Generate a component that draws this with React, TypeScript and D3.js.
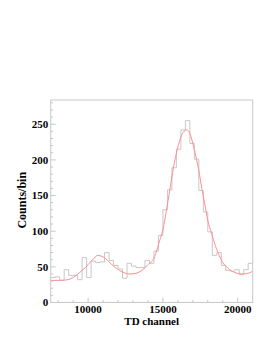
import { useEffect, useRef } from "react"
import * as d3 from "d3"

const W = 273
const H = 353

// histogram: 45 bins of 300 channels starting at 7500
const binStart = 7500
const binWidth = 300
const counts = [
  35, 36, 31, 46, 38, 38, 32, 63, 35, 58, 56, 57, 70, 59, 52, 47, 34, 55, 51, 49, 49, 59, 55, 72, 94, 130, 158, 189,
  215, 242, 255, 223, 201, 157, 127, 99, 66, 70, 52, 45, 44, 46, 39, 46, 55,
]

// fit curve
const fitChannel = [
  7500, 8000, 8500, 8800, 9200, 9600, 10000, 10300, 10650, 11000, 11300, 11700, 12100, 12500, 12800, 13200, 13600,
  14000, 14400, 14800, 15000, 15200, 15400, 15600, 15800, 16000, 16200, 16400, 16600, 16800, 17000, 17200, 17400,
  17600, 17800, 18000, 18250, 18500, 18700, 19000, 19300, 19800, 20300, 20700, 21000,
]
const fitValue = [
  31, 31, 31.5, 33, 38, 45, 53, 60, 66, 64, 59, 51, 45, 41, 40, 41, 45, 53, 62, 88, 102, 125, 150, 176, 200, 218,
  232, 240, 242, 237, 223, 205, 185, 160, 138, 115, 97, 80, 69, 56, 49, 42, 40, 41, 44,
]

const xTicks = [10000, 15000, 20000]
const yTicks = [0, 50, 100, 150, 200, 250]

export default function App() {
  const svgRef = useRef<SVGSVGElement | null>(null)

  useEffect(() => {
    if (!svgRef.current) return
    const svg = d3.select(svgRef.current)
    svg.selectAll("*").remove()

    const left = 50.7
    const right = 252.7
    const top = 100
    const bottom = 302.5

    const x = d3.scaleLinear().domain([7500, 21000]).range([left, right])
    const y = d3.scaleLinear().domain([0, 284]).range([bottom, top])

    svg.append("rect").attr("width", W).attr("height", H).attr("fill", "#ffffff")

    const frameColor = "#c8c8c8"
    const font = "'Liberation Serif', 'Times New Roman', serif"

    // histogram outline
    const steps: [number, number][] = []
    counts.forEach((c, i) => {
      steps.push([binStart + i * binWidth, c])
      steps.push([binStart + (i + 1) * binWidth, c])
    })
    const stepLine = d3
      .line<[number, number]>()
      .x((d) => x(d[0]))
      .y((d) => y(d[1]))
    svg
      .append("path")
      .datum(steps)
      .attr("d", stepLine)
      .attr("fill", "none")
      .attr("stroke", "#c8c8c8")
      .attr("stroke-width", 1)

    // fit
    const fitLine = d3
      .line<number>()
      .x((_, i) => x(fitChannel[i]))
      .y((d) => y(d))
      .curve(d3.curveMonotoneX)
    svg
      .append("path")
      .datum(fitValue)
      .attr("d", fitLine)
      .attr("fill", "none")
      .attr("stroke", "#ff8f8f")
      .attr("stroke-width", 1)

    // frame
    svg
      .append("rect")
      .attr("x", left)
      .attr("y", top)
      .attr("width", right - left)
      .attr("height", bottom - top)
      .attr("fill", "none")
      .attr("stroke", frameColor)
      .attr("stroke-width", 1)

    // y ticks
    const yMinor = d3.range(0, 281, 10)
    svg
      .append("g")
      .selectAll("line")
      .data(yMinor)
      .join("line")
      .attr("x1", left)
      .attr("x2", (d) => left + (d % 50 === 0 ? 5 : 2.5))
      .attr("y1", (d) => y(d))
      .attr("y2", (d) => y(d))
      .attr("stroke", frameColor)

    svg
      .append("g")
      .selectAll("text")
      .data(yTicks)
      .join("text")
      .attr("x", left - 2.5)
      .attr("y", (d) => y(d))
      .attr("dy", "0.35em")
      .attr("text-anchor", "end")
      .style("font-family", font)
      .style("font-weight", "bold")
      .style("font-size", "11px")
      .text((d) => d)

    // x ticks
    const xMinor = d3.range(8000, 20001, 1000)
    svg
      .append("g")
      .selectAll("line")
      .data(xMinor)
      .join("line")
      .attr("x1", (d) => x(d))
      .attr("x2", (d) => x(d))
      .attr("y1", bottom)
      .attr("y2", (d) => bottom - (d % 5000 === 0 ? 5 : 2.5))
      .attr("stroke", frameColor)

    svg
      .append("g")
      .selectAll("text")
      .data(xTicks)
      .join("text")
      .attr("x", (d) => x(d))
      .attr("y", 312.5)
      .attr("text-anchor", "middle")
      .style("font-family", font)
      .style("font-weight", "bold")
      .style("font-size", "11px")
      .text((d) => d)

    svg
      .append("text")
      .attr("x", (left + right) / 2)
      .attr("y", 325)
      .attr("text-anchor", "middle")
      .style("font-family", font)
      .style("font-weight", "bold")
      .style("font-size", "11px")
      .text("TD channel")

    svg
      .append("text")
      .attr("transform", `translate(26,${(top + bottom) / 2 - 1}) rotate(-90)`)
      .attr("text-anchor", "middle")
      .style("font-family", font)
      .style("font-weight", "bold")
      .style("font-size", "12px")
      .text("Counts/bin")
  }, [])

  return <svg ref={svgRef} width={W} height={H} style={{ position: "absolute", left: 0, top: 0 }}></svg>
}
